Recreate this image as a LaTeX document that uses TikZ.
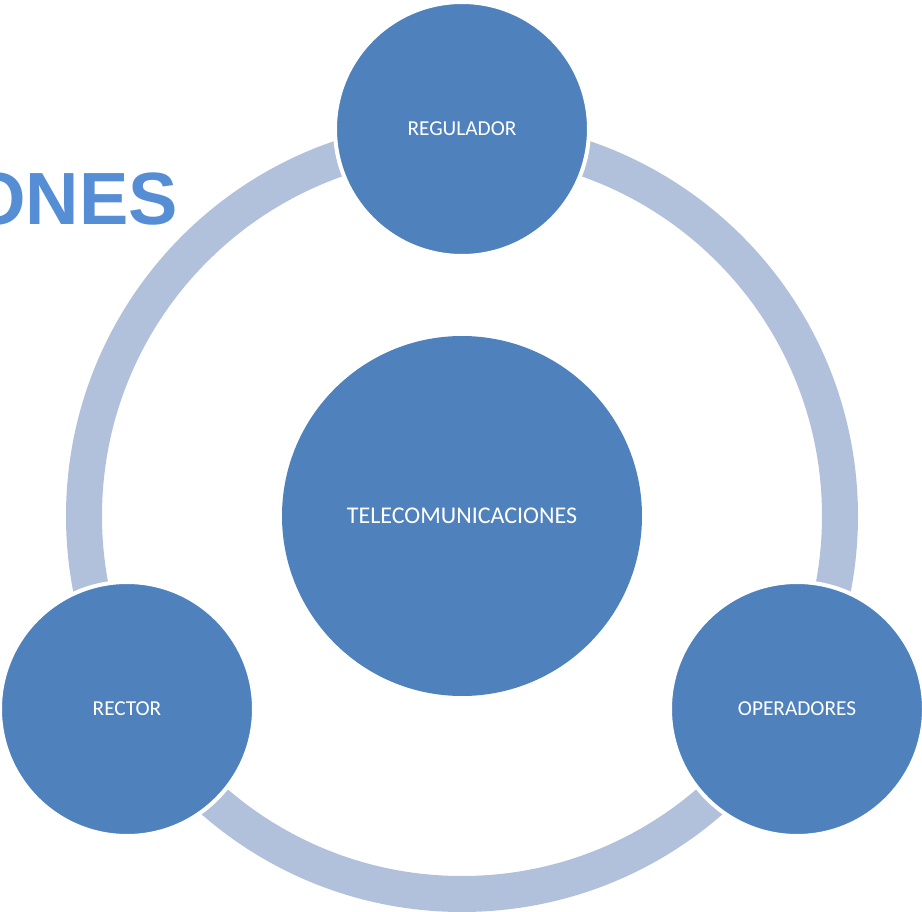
\documentclass[tikz,border=0pt]{standalone}
\usepackage{fontspec}
\setmainfont{Carlito}
\newfontfamily\titlefont{Liberation Sans}
\definecolor{nodeblue}{HTML}{4F81BD}
\definecolor{ringblue}{HTML}{B2C1DB}
\definecolor{titleblue}{HTML}{558ED5}
\begin{document}
\begin{tikzpicture}[x=1pt,y=-1pt,
  bubble/.style={circle, fill=nodeblue, draw=white, line width=4pt,
    minimum size=254pt, inner sep=0pt, text=white,
    font=\fontsize{21.3}{25}\selectfont},
  hub/.style={circle, fill=nodeblue, minimum size=360pt, inner sep=0pt,
    text=white, font=\fontsize{24}{28}\selectfont},
  ring/.style={draw=ringblue, line width=36pt},
  title/.style={anchor=base east, inner sep=0pt, text=titleblue,
    font=\titlefont\bfseries\fontsize{74}{80}\selectfont}]
\useasboundingbox (0,0) rectangle (922,912);
\clip (0,0) rectangle (922,912);
\node[title] (ttl) at (178,225) {ONES};
\coordinate (c) at (462,516);
\draw[ring] (c) circle [radius=378pt];
\node[hub] (tele) at (c) {TELECOMUNICACIONES};
\node[bubble] (reg) at (462,129) {REGULADOR};
\node[bubble] (op) at (797,709) {OPERADORES};
\node[bubble] (rec) at (127,709) {RECTOR};
\end{tikzpicture}
\end{document}
